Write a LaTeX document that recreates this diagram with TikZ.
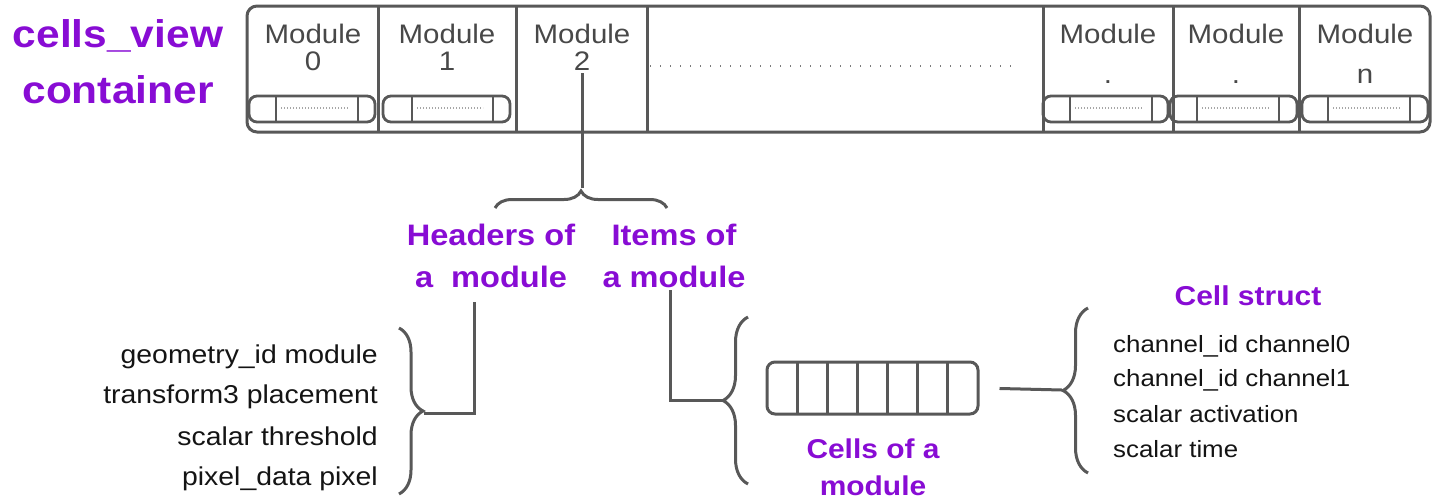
\documentclass[tikz,border=0pt]{standalone}
\usepackage{fontspec}
\setmainfont{Liberation Sans}[FakeStretch=1.1]
\usetikzlibrary{decorations.pathreplacing}
\definecolor{purp}{RGB}{136,12,212}
\definecolor{ink}{RGB}{88,88,88}
\definecolor{modgray}{RGB}{72,72,72}
\definecolor{txt}{RGB}{20,20,20}

\begin{document}
\begin{tikzpicture}[x=1pt,y=-1pt,
  frame/.style={draw=ink,line width=3pt},
  conn/.style={draw=ink,line width=3pt},
  curly/.style={draw=ink,line width=3pt,decorate,
    decoration={brace,amplitude=#1,aspect=0.5}},
  bar/.style={draw=ink,line width=2.8pt},
  tickline/.style={draw=gray!70,line width=1.4pt,dash pattern=on 1pt off 2pt},
  bigdots/.style={draw=ink!80,line width=2pt,dash pattern=on 1.2pt off 8.8pt},
  heading/.style={text=purp,inner sep=0pt,align=center,anchor=base,
    font=\bfseries\fontsize{29.6}{42}\selectfont},
  modtxt/.style={text=modgray,inner sep=0pt,anchor=base,
    font=\fontsize{26.8}{30}\selectfont},
  leftfield/.style={text=txt,inner sep=0pt,anchor=base east,
    font=\fontsize{25.8}{30}\selectfont},
  rightfield/.style={text=txt,inner sep=0pt,anchor=base west,
    font=\fontsize{23.5}{28}\selectfont}]
\useasboundingbox (0,0) rectangle (1434,501);

% title of the container (base anchor sits on the last line)
\node[heading,font=\bfseries\fontsize{38.6}{56}\selectfont] (cv) at (118,103) {cells\_view\\container};

% the container with its module slots
\draw[frame,rounded corners=10pt] (247,6) rectangle (1430,132);
\foreach \x in {378,516,647,1043,1173,1299}
  \draw[frame] (\x,6) -- (\x,132);

% module labels
\foreach \n/\cx/\lbl/\by in {0/313/0/70,1/447/1/70,2/582/2/70,
                             4/1108/./83,5/1236/./83,6/1365/n/83}{
  \node[modtxt] (mt\n) at (\cx,43) {Module};
  \node[modtxt] (mn\n) at (\cx,\by) {\lbl};
}

% small item bars inside modules
\foreach \a/\b/\c/\d in {249/375/276/358,383/510/412/493,
                         1043/1168/1070/1152,1170/1297/1197/1279,1302/1428/1328/1410}{
  \draw[bar,rounded corners=8pt] (\a,96) rectangle (\b,122);
  \draw[bar] (\c,96) -- (\c,122);
  \draw[bar] (\d,96) -- (\d,122);
  \draw[tickline] (\c+5,108) -- (\d-10,108);
}

% elided modules
\draw[bigdots] (650,66) -- (1018,66);

% split of module 2 into headers and items
\coordinate (tb) at (582,188);
\draw[curly=17pt] (495,208) -- (667,208);
\draw[conn] (mn2.south) ++(0,3) -- (tb);

\node[heading] (hdr) at (491,287) {Headers of\\a\ \ module};
\node[heading] (itm) at (674,287) {Items of\\a module};

% header fields
\coordinate (hl) at (474,302);
\coordinate (lbt) at (424,413);
\draw[curly=24pt] (399,328) -- (399,494);
\draw[conn] (hl) |- (lbt);

\node[leftfield] (f1) at (378,363) {geometry\_id module};
\node[leftfield] (f2) at (378,403) {transform3 placement};
\node[leftfield] (f3) at (378,445) {scalar threshold};
\node[leftfield] (f4) at (378,485) {pixel\_data pixel};

% cells of a module
\coordinate (il) at (670,290);
\coordinate (cbt) at (723,400);
\draw[curly=25pt] (748,484) -- (748,317);
\draw[conn] (il) |- (cbt);

\node[draw=ink,line width=3pt,rounded corners=8pt,inner sep=0pt,
      minimum width=211pt,minimum height=52pt] (cells) at (872.5,388) {};
\foreach \i in {1,...,6}
  \draw[conn] (767+\i*30.14,362) -- (767+\i*30.14,414);

\node[heading,font=\bfseries\fontsize{27.2}{37}\selectfont] (cl) at (873,495) {Cells of a\\module};

% cell struct
\coordinate (rbt) at (1062,390);
\draw[curly=25pt] (1088,473) -- (1088,308);
\draw[conn,shorten <=20pt] (cells.east) -- (rbt);

\node[heading,font=\bfseries\fontsize{27.3}{37}\selectfont] (cs) at (1248,305) {Cell struct};
\node[rightfield] (c1) at (1113,352) {channel\_id channel0};
\node[rightfield] (c2) at (1113,386) {channel\_id channel1};
\node[rightfield] (c3) at (1113,422) {scalar activation};
\node[rightfield] (c4) at (1113,457) {scalar time};
\end{tikzpicture}
\end{document}
